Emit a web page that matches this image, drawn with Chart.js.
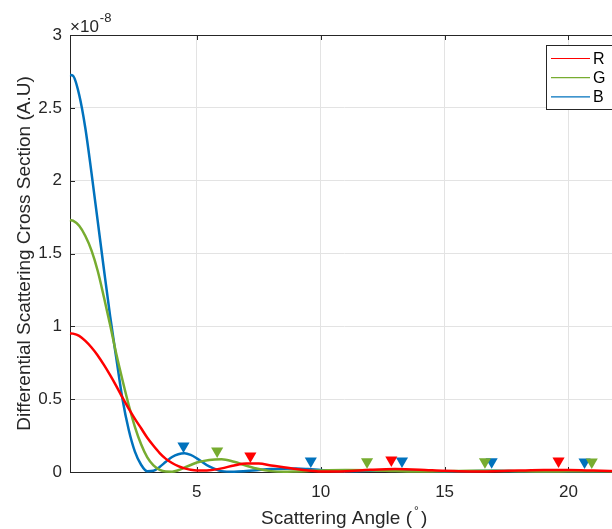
<!DOCTYPE html>
<html>
<head>
<meta charset="utf-8">
<script src="https://cdn.jsdelivr.net/npm/chart.js@4.4.1/dist/chart.umd.min.js"></script>
<style>
html, body { margin: 0; padding: 0; background: #fff; overflow: hidden; }
#wrap { width: 625px; height: 529px; }
</style>
</head>
<body>
<div id="wrap"><canvas id="myChart" width="625" height="529"></canvas></div>
<script>
// scattering angle (deg) and cross sections (x 1e-8, A.U)
const angle = [-0.12, 0, 0.25, 0.5, 0.75, 1, 1.25, 1.5, 1.75, 2, 2.25, 2.5, 2.75, 3, 3.25, 3.5, 3.75, 4, 4.25, 4.5, 4.75, 5,
  5.5, 6, 6.5, 7, 7.5, 8, 8.5, 9, 9.5, 10, 11, 12, 13, 14, 15, 16, 17, 18, 19, 20, 21, 22];
const red = [0.952, 0.95, 0.935, 0.90, 0.855, 0.80, 0.735, 0.665, 0.59, 0.51,
  0.435, 0.365, 0.30, 0.235, 0.18, 0.13, 0.09, 0.062, 0.04, 0.025,
  0.015, 0.01, 0.012, 0.025, 0.045, 0.058, 0.058, 0.045, 0.032, 0.02,
  0.01, 0.004, 0.006, 0.015, 0.02, 0.016, 0.008, 0.004, 0.006, 0.01,
  0.013, 0.013, 0.01, 0.006];
const green = [1.73, 1.725, 1.69, 1.62, 1.52, 1.38, 1.20, 1.01, 0.81, 0.63,
  0.46, 0.31, 0.19, 0.10, 0.045, 0.015, 0.003, 0.002, 0.012, 0.03,
  0.048, 0.065, 0.083, 0.088, 0.07, 0.043, 0.02, 0.006, 0.002, 0.004,
  0.007, 0.01, 0.013, 0.012, 0.007, 0.003, 0.005, 0.008, 0.008, 0.005,
  0.003, 0.005, 0.006, 0.004];
const blue = [2.725, 2.72, 2.59, 2.36, 2.05, 1.72, 1.39, 1.07, 0.78, 0.50,
  0.29, 0.14, 0.05, 0.005, 0.008, 0.035, 0.07, 0.103, 0.122, 0.128,
  0.117, 0.094, 0.038, 0.006, 0.002, 0.007, 0.014, 0.02, 0.023, 0.024,
  0.02, 0.014, 0.005, 0.009, 0.012, 0.008, 0.004, 0.006, 0.008, 0.005,
  0.004, 0.006, 0.006, 0.004];

// peak markers
const redPeakX = [7.16, 12.85, 19.6];
const redPeakY = [0.11, 0.082, 0.075];
const greenPeakX = [5.82, 11.87, 16.63, 20.94];
const greenPeakY = [0.144, 0.07, 0.07, 0.068];
const bluePeakX = [4.46, 9.6, 13.28, 16.9, 20.65];
const bluePeakY = [0.178, 0.075, 0.075, 0.07, 0.068];

const xTicks = [5, 10, 15, 20];
const seriesNames = ['R', 'G', 'B'];

const cRed = '#ff0000';
const cGreen = '#77ac30';
const cBlue = '#0072bd';
const axisColor = '#262626';
const fontFam = '"Liberation Sans", Arial, Helvetica, sans-serif';

function pts(xs, ys) {
  return xs.map((x, i) => ({ x: x, y: ys[i] }));
}

function lineSet(label, ys, color) {
  return {
    type: 'line', label: label, data: pts(angle, ys),
    borderColor: color, borderWidth: 2.5, pointRadius: 0,
    cubicInterpolationMode: 'monotone', fill: false, clip: 5,
  };
}

function markSet(label, xs, ys, color) {
  return {
    type: 'scatter', label: label, data: pts(xs, ys),
    pointStyle: 'triangle', rotation: 180, pointRadius: 7,
    backgroundColor: color, borderColor: color, borderWidth: 0, clip: false,
  };
}

const decor = {
  id: 'decor',
  beforeDatasetsDraw(chart) {
    const ctx = chart.ctx, a = chart.chartArea, xs = chart.scales.x, ys = chart.scales.y;
    ctx.save();
    ctx.strokeStyle = axisColor;
    ctx.lineWidth = 1;
    ctx.beginPath();
    // top box line
    ctx.moveTo(a.left, a.top + 0.5);
    ctx.lineTo(a.right, a.top + 0.5);
    // inward tick marks
    xTicks.forEach(v => {
      const px = Math.round(xs.getPixelForValue(v)) + 0.5;
      ctx.moveTo(px, a.bottom); ctx.lineTo(px, a.bottom - 5);
      ctx.moveTo(px, a.top); ctx.lineTo(px, a.top + 5);
    });
    for (let v = 0; v <= 3; v += 0.5) {
      const py = Math.round(ys.getPixelForValue(v)) + 0.5;
      ctx.moveTo(a.left, py); ctx.lineTo(a.left + 5, py);
    }
    ctx.stroke();
    ctx.restore();
  },
  afterDraw(chart) {
    const ctx = chart.ctx, a = chart.chartArea;
    ctx.save();
    ctx.fillStyle = axisColor;
    // axis titles
    ctx.font = '19px ' + fontFam;
    ctx.textBaseline = 'alphabetic';
    const t1 = 'Scattering Angle (';
    const w1 = ctx.measureText(t1).width;
    const wTot = w1 + 15;
    const x0 = (a.left + a.right) / 2 - wTot / 2;
    ctx.textAlign = 'left';
    ctx.fillText(t1, x0, 524);
    ctx.font = '12px ' + fontFam;
    ctx.fillText('\u00b0', x0 + w1 + 2, 515);
    ctx.font = '19px ' + fontFam;
    ctx.fillText(')', x0 + w1 + 9, 524);

    ctx.save();
    ctx.translate(30, (a.top + a.bottom) / 2);
    ctx.rotate(-Math.PI / 2);
    ctx.textAlign = 'center';
    ctx.fillText('Differential Scattering Cross Section (A.U)', 0, 0);
    ctx.restore();

    // exponent
    ctx.textAlign = 'left';
    ctx.font = '17px ' + fontFam;
    ctx.fillText('\u00d710', a.left, 32);
    const wx = ctx.measureText('\u00d710').width;
    ctx.font = '13px ' + fontFam;
    ctx.fillText('-8', a.left + wx + 1, 22);

    // legend
    const lx = 546.5, ly = 45.5, lw = 66, lh = 64;
    ctx.fillStyle = '#fff';
    ctx.fillRect(lx, ly, lw, lh);
    ctx.strokeStyle = axisColor;
    ctx.lineWidth = 1;
    ctx.strokeRect(lx, ly, lw, lh);
    const cols = [cRed, cGreen, cBlue];
    ctx.font = '16px ' + fontFam;
    ctx.textBaseline = 'middle';
    seriesNames.forEach((n, i) => {
      const yy = 58.5 + i * 19.2;
      ctx.strokeStyle = cols[i];
      ctx.lineWidth = 1.2;
      ctx.beginPath();
      ctx.moveTo(551, yy); ctx.lineTo(590, yy);
      ctx.stroke();
      ctx.fillStyle = '#000';
      ctx.fillText(n, 593, yy + 1);
    });
    ctx.restore();
  }
};

const ctx = document.getElementById('myChart').getContext('2d');
const myChart = new Chart(ctx, {
  type: 'scatter',
  data: {
    datasets: [
      markSet('R peaks', redPeakX, redPeakY, cRed),
      markSet('G peaks', greenPeakX, greenPeakY, cGreen),
      markSet('B peaks', bluePeakX, bluePeakY, cBlue),
      lineSet('R', red, cRed),
      lineSet('G', green, cGreen),
      lineSet('B', blue, cBlue),
    ],
  },
  options: {
    responsive: false,
    animation: false,
    layout: { padding: { top: 35, right: 5, left: 0, bottom: 0 } },
    plugins: { legend: { display: false }, tooltip: { enabled: false } },
    scales: {
      x: {
        type: 'linear', min: -0.12, max: 22,
        afterBuildTicks: s => { s.ticks = xTicks.map(v => ({ value: v })); },
        afterFit: s => { s.height = 57; },
        grid: { color: '#e3e3e3', drawTicks: false },
        border: { color: axisColor, width: 1 },
        ticks: { padding: 10, color: axisColor, font: { family: fontFam, size: 17 }, maxRotation: 0, autoSkip: false },
      },
      y: {
        type: 'linear', min: 0, max: 3,
        afterFit: s => { s.width = 70; },
        grid: { color: '#e3e3e3', drawTicks: false },
        border: { color: axisColor, width: 1 },
        ticks: { stepSize: 0.5, padding: 8, color: axisColor, font: { family: fontFam, size: 17 },
          callback: v => String(v) },
      },
    },
  },
  plugins: [decor],
});
</script>
</body>
</html>
